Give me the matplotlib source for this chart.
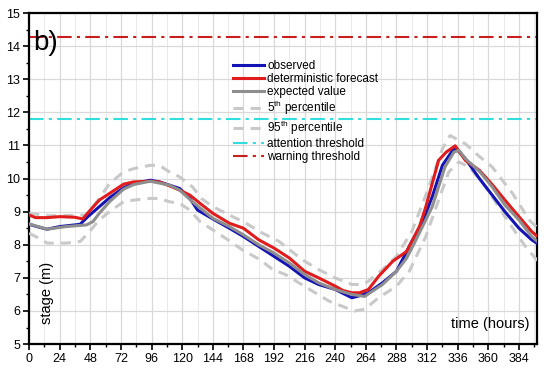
import matplotlib as mpl
mpl.use("Agg")
import matplotlib.pyplot as plt
from matplotlib.ticker import MultipleLocator

plt.rcParams['font.family'] = ['Liberation Sans', 'DejaVu Sans']

# observed stage
t_obs = [0, 6, 14, 24, 36, 40, 46, 55, 63, 74, 82, 95, 102, 110, 118, 126, 132, 144, 157, 168,
         180, 192, 204, 216, 227, 240, 253, 258, 266, 277, 288, 300, 308, 316, 324, 332, 335,
         342, 353, 363, 373, 384, 394, 400]
v_obs = [8.62, 8.55, 8.47, 8.55, 8.6, 8.62, 8.85, 9.15, 9.42, 9.72, 9.85, 9.95, 9.9, 9.8, 9.7,
         9.4, 9.05, 8.78, 8.5, 8.25, 7.95, 7.65, 7.35, 7.0, 6.8, 6.65, 6.4, 6.45, 6.55, 6.85,
         7.2, 8.1, 8.65, 9.45, 10.4, 10.85, 10.9, 10.6, 10.0, 9.5, 9.0, 8.5, 8.15, 8.0]

# deterministic forecast
t_det = [0, 5, 14, 24, 36, 42, 48, 55, 63, 74, 82, 95, 102, 110, 118, 126, 134, 144, 157, 168,
         180, 192, 204, 216, 227, 240, 246, 253, 259, 266, 274, 285, 296, 306, 311, 316, 321,
         327, 334, 342, 353, 363, 373, 384, 394, 400]
v_det = [8.9, 8.82, 8.82, 8.85, 8.83, 8.78, 9.05, 9.35, 9.55, 9.83, 9.9, 9.92, 9.9, 9.78, 9.65,
         9.5, 9.25, 8.95, 8.65, 8.5, 8.15, 7.9, 7.6, 7.2, 7.0, 6.75, 6.62, 6.55, 6.55, 6.65,
         7.05, 7.5, 7.8, 8.55, 9.15, 9.85, 10.55, 10.8, 10.99, 10.55, 10.25, 9.82, 9.35, 8.85,
         8.4, 8.2]

# expected value
t_exp = [0, 14, 29, 45, 50, 55, 63, 74, 82, 95, 110, 118, 128, 144, 157, 168, 180, 192, 204,
         216, 227, 240, 253, 263, 277, 288, 296, 302, 316, 326, 333, 337, 342, 353, 363, 373,
         384, 394, 400]
v_exp = [8.63, 8.47, 8.55, 8.6, 8.7, 8.95, 9.3, 9.68, 9.82, 9.92, 9.8, 9.65, 9.3, 8.8, 8.55,
         8.3, 8.0, 7.75, 7.45, 7.1, 6.85, 6.65, 6.5, 6.44, 6.8, 7.2, 7.6, 8.05, 9.15, 10.35,
         10.8, 10.85, 10.6, 10.22, 9.75, 9.2, 8.75, 8.25, 8.05]

# 5th percentile
t_p05 = [0, 10, 14, 29, 40, 45, 55, 63, 74, 82, 95, 102, 110, 118, 126, 134, 144, 157, 167, 181,
         191, 201, 220, 235, 255, 263, 274, 288, 298, 311, 321, 329, 337, 345, 358, 373, 389, 400]
v_p05 = [8.35, 8.15, 8.05, 8.05, 8.1, 8.3, 8.75, 9.0, 9.3, 9.35, 9.4, 9.4, 9.3, 9.25, 9.05,
         8.7, 8.45, 8.12, 7.85, 7.55, 7.25, 7.1, 6.65, 6.3, 6.0, 6.05, 6.4, 6.75, 7.2, 8.25,
         9.35, 10.2, 10.5, 10.35, 9.75, 8.85, 7.95, 7.45]

# 95th percentile
t_p95 = [0, 14, 29, 45, 55, 63, 74, 82, 95, 102, 110, 118, 128, 135, 144, 157, 170, 183, 196,
         214, 227, 240, 253, 261, 266, 277, 288, 300, 312, 324, 330, 342, 352, 363, 379, 392, 400]
v_p95 = [8.95, 8.88, 8.88, 8.9, 9.4, 9.85, 10.2, 10.3, 10.4, 10.4, 10.2, 10.05, 9.75, 9.4,
         9.15, 8.9, 8.65, 8.35, 8.1, 7.55, 7.25, 7.0, 6.8, 6.8, 6.9, 7.25, 7.65, 8.4, 9.6,
         10.9, 11.3, 11.05, 10.7, 10.35, 9.55, 8.75, 8.45]

attention = 11.8
warning = 14.27

fig = plt.figure(figsize=(5.5, 3.72), dpi=100)
ax = fig.add_axes([0.053, 0.075, 0.923, 0.89])

pct = dict(color='#c9c9c9', lw=2.2, dashes=(3.3, 2.3))
ax.plot(t_p05, v_p05, label='5$^{\\mathregular{th}}$ percentile', zorder=3, **pct)
ax.plot(t_p95, v_p95, label='95$^{\\mathregular{th}}$ percentile', zorder=3, **pct)
ax.plot(t_obs, v_obs, color='#1414b4', lw=2.2, label='observed', zorder=4)
ax.plot(t_det, v_det, color='#e01c1c', lw=2.2, label='deterministic forecast', zorder=5)
ax.plot(t_exp, v_exp, color='#8e8e8e', lw=2.2, label='expected value', zorder=6)
ax.axhline(attention, color='#30dede', lw=1.5, dashes=(7, 2.5, 1.5, 2.5),
           label='attention threshold', zorder=2)
ax.axhline(warning, color='#c81e1e', lw=1.5, dashes=(7, 2.5, 1.5, 2.5),
           label='warning threshold', zorder=2)

ax.set_xlim(0, 398)
ax.set_ylim(5, 15)
ax.xaxis.set_major_locator(MultipleLocator(24))
ax.xaxis.set_minor_locator(MultipleLocator(12))
ax.yaxis.set_major_locator(MultipleLocator(1))
ax.yaxis.set_minor_locator(MultipleLocator(0.5))
ax.grid(which='major', color='#d9d9d9', lw=0.9, zorder=0)
ax.grid(which='minor', axis='x', color='#e9e9e9', lw=0.7, zorder=0)
ax.set_axisbelow(True)
ax.tick_params(which='major', direction='out', length=4.5, width=1.2, labelsize=9, pad=2)
ax.tick_params(which='minor', direction='out', length=2.5, width=1.0)
for s in ax.spines.values():
    s.set_linewidth(1.6)

ax.text(0.985, 0.04, 'time (hours)', transform=ax.transAxes, ha='right', va='bottom', fontsize=10.5)
ax.text(0.022, 0.06, 'stage (m)', transform=ax.transAxes, rotation=90, ha='left', va='bottom', fontsize=10.5)
ax.text(0.008, 0.948, 'b)', transform=ax.transAxes, ha='left', va='top', fontsize=20)

h, l = ax.get_legend_handles_labels()
order = [2, 3, 4, 0, 1, 5, 6]
ax.legend([h[i] for i in order], [l[i] for i in order], loc='upper left',
          bbox_to_anchor=(0.39, 0.877), frameon=False, fontsize=8.5, handlelength=2.6,
          handletextpad=0.3, labelspacing=0.1, borderpad=0)

fig.savefig('out.png', dpi=100)
